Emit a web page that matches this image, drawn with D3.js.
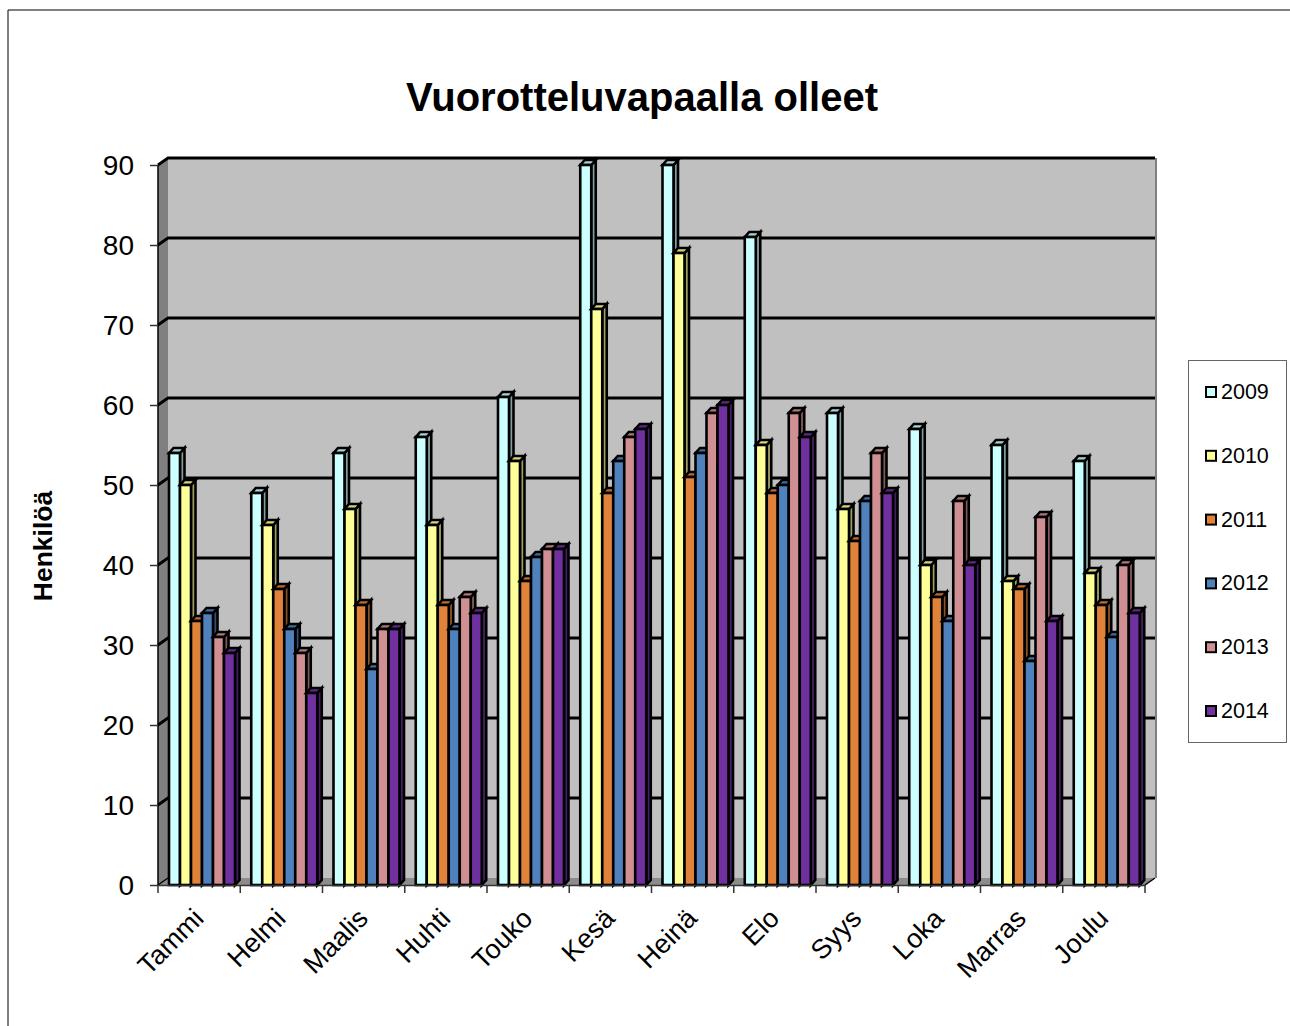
<!DOCTYPE html>
<html>
<head>
<meta charset="utf-8">
<script src="https://cdn.jsdelivr.net/npm/d3@7"></script>
<style>
html, body { margin: 0; padding: 0; background: #fff; }
text { font-family: "Liberation Sans", Arial, sans-serif; fill: #000; }
</style>
</head>
<body>
<div id="chart"></div>
<script>
var months = ['Tammi', 'Helmi', 'Maalis', 'Huhti', 'Touko', 'Kesä', 'Heinä', 'Elo', 'Syys', 'Loka', 'Marras', 'Joulu'];
var years = ['2009', '2010', '2011', '2012', '2013', '2014'];
var s2009 = [54, 49, 54, 56, 61, 90, 90, 81, 59, 57, 55, 53];
var s2010 = [50, 45, 47, 45, 53, 72, 79, 55, 47, 40, 38, 39];
var s2011 = [33, 37, 35, 35, 38, 49, 51, 49, 43, 36, 37, 35];
var s2012 = [34, 32, 27, 32, 41, 53, 54, 50, 48, 33, 28, 31];
var s2013 = [31, 29, 32, 36, 42, 56, 59, 59, 54, 48, 46, 40];
var s2014 = [29, 24, 32, 34, 42, 57, 60, 56, 49, 40, 33, 34];
var seriesValues = [s2009, s2010, s2011, s2012, s2013, s2014];
var fronts = ['#CCFFFF', '#FFFF99', '#E0823A', '#4F81BD', '#D09093', '#7030A0'];
var yTicks = [0, 10, 20, 30, 40, 50, 60, 70, 80, 90];

var width = 1290,
    height = 1026,
    depthX = 10,
    depthY = 7,
    barDepthX = 4.5,
    barDepthY = 5;

var svg = d3.select('#chart').append('svg')
    .attr('width', width)
    .attr('height', height)
    .style('display', 'block')
    .style('background', 'white');

var x = d3.scaleBand().domain(months).range([158, 1145]);
var inner = d3.scaleBand().domain(years).range([11, 77]);
var y = d3.scaleLinear().domain([0, 90]).range([885, 165]);

function pts(a) {
    return a.map(function(p) { return p.join(','); }).join(' ');
}

// page frame
svg.append('path')
    .attr('d', 'M8,1026V10H1290')
    .attr('fill', 'none')
    .attr('stroke', '#000')
    .attr('stroke-width', 1);

// title
svg.append('text')
    .text('Vuorotteluvapaalla olleet')
    .attr('x', 642)
    .attr('y', 111)
    .attr('text-anchor', 'middle')
    .style('font-size', '40px')
    .style('font-weight', 'bold');

// y axis title
svg.append('text')
    .text('Henkilöä')
    .attr('transform', 'translate(52,546) rotate(-90)')
    .attr('text-anchor', 'middle')
    .style('font-size', '26.5px')
    .style('font-weight', 'bold');

// back wall, side wall and floor
var x0 = x.range()[0], x1 = x.range()[1];
var yBottom = y(0), yTop = y(90);

svg.append('polygon')
    .attr('points', pts([[x0 + depthX, yTop - depthY], [x1 + depthX + 1, yTop - depthY], [x1 + depthX + 1, yBottom - depthY], [x0 + depthX, yBottom - depthY]]))
    .attr('fill', '#C0C0C0');
svg.append('polygon')
    .attr('points', pts([[x0, yTop], [x0 + depthX, yTop - depthY], [x0 + depthX, yBottom - depthY], [x0, yBottom]]))
    .attr('fill', '#808080');
svg.append('polygon')
    .attr('points', pts([[x0, yBottom], [x0 + depthX, yBottom - depthY], [x1 + depthX, yBottom - depthY], [x1, yBottom]]))
    .attr('fill', '#8C8C8C');
svg.append('line')
    .attr('x1', x1 + depthX + 1).attr('x2', x1 + depthX + 1)
    .attr('y1', yTop - depthY).attr('y2', yBottom - depthY)
    .attr('stroke', '#808080').attr('stroke-width', 2);
svg.append('line')
    .attr('x1', x0).attr('x2', x0)
    .attr('y1', yTop).attr('y2', yBottom)
    .attr('stroke', '#000').attr('stroke-width', 1.5);

// gridlines along the back wall, stepping across the side wall
svg.append('g').selectAll('polyline').data(yTicks.filter(function(d) { return d > 0; }))
    .enter().append('polyline')
    .attr('points', function(d) {
        return pts([[x0, y(d)], [x0 + depthX, y(d) - depthY], [x1 + depthX, y(d) - depthY]]);
    })
    .attr('fill', 'none')
    .attr('stroke', '#000')
    .attr('stroke-width', 2.8);

// floor edge diagonals
svg.append('polyline')
    .attr('points', pts([[x0, yBottom], [x0 + depthX, yBottom - depthY]]))
    .attr('stroke', '#000').attr('stroke-width', 1.5);
svg.append('polyline')
    .attr('points', pts([[x1, yBottom], [x1 + depthX, yBottom - depthY]]))
    .attr('stroke', '#000').attr('stroke-width', 1.5);

// bars, one group per month, drawn left to right
var barW = inner.bandwidth();
var groups = svg.append('g').selectAll('g').data(months)
    .enter().append('g')
    .attr('transform', function(d) { return 'translate(' + x(d) + ',0)'; });

years.forEach(function(year, si) {
    var bar = groups.append('g')
        .attr('stroke', '#000')
        .attr('stroke-width', 2.6)
        .attr('stroke-linejoin', 'miter');
    function val(m) { return seriesValues[si][months.indexOf(m)]; }
    var left = inner(year);
    var c = d3.color(fronts[si]);
    // side face
    bar.append('polygon')
        .attr('points', function(m) {
            var t = y(val(m));
            return pts([[left + barW, t], [left + barW + barDepthX, t - barDepthY], [left + barW + barDepthX, yBottom - barDepthY], [left + barW, yBottom]]);
        })
        .attr('fill', c.darker(1.3).formatHex());
    // top face
    bar.append('polygon')
        .attr('points', function(m) {
            var t = y(val(m));
            return pts([[left, t], [left + barDepthX, t - barDepthY], [left + barW + barDepthX, t - barDepthY], [left + barW, t]]);
        })
        .attr('fill', c.darker(0.5).formatHex());
    // front face
    bar.append('rect')
        .attr('x', left)
        .attr('y', function(m) { return y(val(m)); })
        .attr('width', barW)
        .attr('height', function(m) { return yBottom - y(val(m)); })
        .attr('fill', fronts[si]);
});

// y axis
var yAxis = svg.append('g')
    .attr('transform', 'translate(' + x0 + ',1)')
    .call(d3.axisLeft(y).tickValues(yTicks).tickSize(8).tickPadding(16));
yAxis.select('.domain').remove();
yAxis.selectAll('line').attr('stroke', '#333').attr('stroke-width', 1.5).attr('transform', 'translate(0,-1)');
yAxis.selectAll('text')
    .style('font-size', '28px')
    .style('font-family', '"Liberation Sans", Arial, sans-serif');

// x axis
var xAxis = svg.append('g')
    .attr('transform', 'translate(0,' + yBottom + ')')
    .call(d3.axisBottom(x).tickSize(0).tickPadding(0));
xAxis.select('.domain').attr('stroke', '#333').attr('stroke-width', 1.5);
xAxis.selectAll('text')
    .attr('x', 0)
    .attr('y', 0)
    .attr('dy', null)
    .attr('text-anchor', 'end')
    .attr('transform', 'translate(6,35) rotate(-45)')
    .style('font-size', '27px')
    .style('font-family', '"Liberation Sans", Arial, sans-serif');

// tick marks between months
svg.append('g').selectAll('line').data(months.concat(['end']))
    .enter().append('line')
    .attr('x1', function(d) { return d === 'end' ? x1 : x(d); })
    .attr('x2', function(d) { return d === 'end' ? x1 : x(d); })
    .attr('y1', yBottom)
    .attr('y2', yBottom + 8)
    .attr('stroke', '#333')
    .attr('stroke-width', 1.5);

// legend
var legendY = d3.scalePoint().domain(years).range([391, 710]);
svg.append('rect')
    .attr('x', 1188.5)
    .attr('y', 360.5)
    .attr('width', 98)
    .attr('height', 382)
    .attr('fill', 'white')
    .attr('stroke', '#666')
    .attr('stroke-width', 1);
var legend = svg.append('g').selectAll('g').data(years)
    .enter().append('g')
    .attr('transform', function(d) { return 'translate(0,' + legendY(d) + ')'; });
legend.append('rect')
    .attr('x', 1206)
    .attr('y', -4)
    .attr('width', 10)
    .attr('height', 10)
    .attr('fill', function(d, i) { return fronts[i]; })
    .attr('stroke', '#000')
    .attr('stroke-width', 2);
legend.append('text')
    .text(function(d) { return d; })
    .attr('x', 1221)
    .attr('y', 8)
    .style('font-size', '21.5px');
</script>
</body>
</html>
